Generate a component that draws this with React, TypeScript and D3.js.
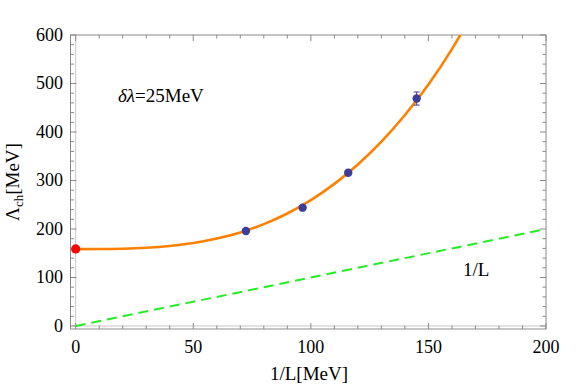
import React from "react";
import * as d3 from "d3";

const xMajorTicks = [0, 50, 100, 150, 200];
const yMajorTicks = [0, 100, 200, 300, 400, 500, 600];
const xMinorStep = 10;
const yMinorStep = 20;

// lattice data points: 1/L [MeV], Λch [MeV], error
const dataX = [72.4, 96.5, 115.9, 145.0];
const dataY = [196, 244, 316, 469];
const dataErr = [2, 2, 5, 13.5];

// extrapolated point at 1/L = 0
const extrapX = [0];
const extrapY = [159];

// fit curve
const curveX = [0, 10, 20, 30, 40, 50, 60, 70, 80, 90, 100, 110, 120, 130, 140, 150, 160, 165];
const curveY = [158.5, 158.6, 159.3, 161.2, 164.9, 171, 180.3, 193, 210, 232, 259.5, 293, 333, 380, 435, 498, 571, 612];

// 1/L reference line
const lineX = [0, 200];
const lineY = [0, 200];

export default function App() {
  const W = 581, H = 392;
  const left = 70.5, right = 546, top = 35, bottom = 329;
  const x = d3.scaleLinear().domain([-2.2, 200]).range([left, right]);
  const y = d3.scaleLinear().domain([-6.2, 600]).range([bottom, top]);

  const xMinor = d3.range(0, 200 + 0.001, xMinorStep).filter((v) => !xMajorTicks.includes(v));
  const yMinor = d3.range(0, 600 + 0.001, yMinorStep).filter((v) => !yMajorTicks.includes(v));

  const line = d3
    .line<number>()
    .x((_, i) => x(curveX[i]))
    .y((d) => y(d))
    .curve(d3.curveMonotoneX);

  const refLine = d3
    .line<number>()
    .x((_, i) => x(lineX[i]))
    .y((d) => y(d));

  const tickColor = "#8a8a8a";
  const font = "Liberation Serif, Times New Roman, Times, serif";
  const maj = 6, min = 3.5;

  return (
    <svg
      width={W}
      height={H}
      style={{ position: "fixed", left: 0, top: 0, background: "#fff", fontFamily: font }}
    >
      <defs>
        <clipPath id="plotClip">
          <rect x={left} y={top} width={right - left} height={bottom - top} />
        </clipPath>
      </defs>
      <rect x={0} y={0} width={W} height={H} fill="#fff" />

      {/* axes lines at 0 */}
      <line x1={x(0)} x2={x(0)} y1={top} y2={bottom} stroke="#c8c8c8" strokeWidth={1} />
      <line x1={left} x2={right} y1={y(0)} y2={y(0)} stroke="#c8c8c8" strokeWidth={1} />

      {/* ticks */}
      <g stroke={tickColor} strokeWidth={1}>
        {xMajorTicks.map((t) => (
          <g key={"xm" + t}>
            <line x1={x(t)} x2={x(t)} y1={bottom} y2={bottom - maj} />
            <line x1={x(t)} x2={x(t)} y1={top} y2={top + maj} />
          </g>
        ))}
        {xMinor.map((t) => (
          <g key={"xn" + t}>
            <line x1={x(t)} x2={x(t)} y1={bottom} y2={bottom - min} />
            <line x1={x(t)} x2={x(t)} y1={top} y2={top + min} />
          </g>
        ))}
        {yMajorTicks.map((t) => (
          <g key={"ym" + t}>
            <line x1={left} x2={left + maj} y1={y(t)} y2={y(t)} />
            <line x1={right} x2={right - maj} y1={y(t)} y2={y(t)} />
          </g>
        ))}
        {yMinor.map((t) => (
          <g key={"yn" + t}>
            <line x1={left} x2={left + min} y1={y(t)} y2={y(t)} />
            <line x1={right} x2={right - min} y1={y(t)} y2={y(t)} />
          </g>
        ))}
      </g>

      {/* frame */}
      <rect
        x={left}
        y={top}
        width={right - left}
        height={bottom - top}
        fill="none"
        stroke={tickColor}
        strokeWidth={1}
      />

      <g clipPath="url(#plotClip)">
        {/* 1/L dashed line */}
        <path
          d={refLine(lineY) || ""}
          fill="none"
          stroke="#22ee22"
          strokeWidth={2}
          strokeDasharray="10,6"
        />
        {/* fit curve */}
        <path d={line(curveY) || ""} fill="none" stroke="#ff8000" strokeWidth={2.6} />
      </g>

      {/* error bars + points */}
      {dataX.map((v, i) => (
        <g key={"p" + i} stroke="#3d3d99" strokeWidth={1}>
          <line x1={x(v)} x2={x(v)} y1={y(dataY[i] - dataErr[i])} y2={y(dataY[i] + dataErr[i])} />
          <line x1={x(v) - 3} x2={x(v) + 3} y1={y(dataY[i] - dataErr[i])} y2={y(dataY[i] - dataErr[i])} />
          <line x1={x(v) - 3} x2={x(v) + 3} y1={y(dataY[i] + dataErr[i])} y2={y(dataY[i] + dataErr[i])} />
          <circle cx={x(v)} cy={y(dataY[i])} r={4.2} fill="#3d3d99" stroke="none" />
        </g>
      ))}
      {extrapX.map((v, i) => (
        <circle key={"e" + i} cx={x(v)} cy={y(extrapY[i])} r={4.6} fill="#ff0000" />
      ))}

      {/* tick labels */}
      <g fontSize={18} fill="#000" style={{ fontFamily: font }}>
        {xMajorTicks.map((t) => (
          <text key={"xl" + t} x={x(t)} y={353} textAnchor="middle">
            {t}
          </text>
        ))}
        {yMajorTicks.map((t) => (
          <text key={"yl" + t} x={63} y={y(t) + 6} textAnchor="end">
            {t}
          </text>
        ))}
      </g>

      {/* annotations */}
      <text x={118} y={102} fontSize={19} style={{ fontFamily: font }}>
        <tspan fontStyle="italic">δλ</tspan>=25MeV
      </text>
      <text x={463} y={276} fontSize={19} style={{ fontFamily: font }}>
        1/L
      </text>

      {/* axis titles */}
      <text x={309} y={380} fontSize={19} textAnchor="middle" style={{ fontFamily: font }}>
        1/L[MeV]
      </text>
      <text
        transform="translate(19,182) rotate(-90)"
        fontSize={19}
        textAnchor="middle"
        style={{ fontFamily: font }}
      >
        Λ<tspan fontSize={13} dy={4}>ch</tspan>
        <tspan dy={-4}>[MeV]</tspan>
      </text>
    </svg>
  );
}
